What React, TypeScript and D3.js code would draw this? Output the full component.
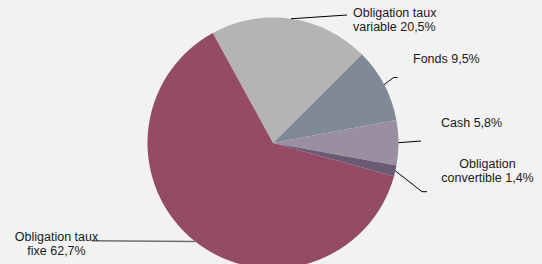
import React from "react";
import * as d3 from "d3";

const labels1 = ["Obligation taux", "Fonds 9,5%", "Cash 5,8%", "Obligation", "Obligation taux"];
const labels2 = ["variable 20,5%", "", "", "convertible 1,4%", "fixe 62,7%"];
const categories = ["Obligation taux variable", "Fonds", "Cash", "Obligation convertible", "Obligation taux fixe"];
const values = [20.5, 9.5, 5.8, 1.4, 62.7];
const colors = ["#b4b4b4", "#7f8a96", "#9a8fa0", "#6a5a74", "#944b66"];

const W = 542, H = 264;
const cx = 273, cy = 143, R = 125.5;
const startDeg = -28.7;

// label layout: text anchor position + leader path points after the start
const layout = [
  { x: 353, y: 16.5, anchor: "start", path: [[347, 15]] },
  { x: 413, y: 63, anchor: "start", path: [[393.5, 77.5], [397.5, 77.5]] },
  { x: 441, y: 126.5, anchor: "start", path: [[421, 141]] },
  { x: 487.5, y: 167.5, anchor: "middle", path: [[422, 191.7], [427, 191.7]] },
  { x: 56.5, y: 240.5, anchor: "middle", path: [[92, 240.7]] },
];
const lineColors = ["#000", "#000", "#000", "#000", "#6f6f6f"];

export default function App() {
  const start = (startDeg * Math.PI) / 180;
  const pie = d3.pie<number>().sort(null).value((d) => d).startAngle(start).endAngle(start + 2 * Math.PI);
  const arcs = pie(values);
  const arc = d3.arc<d3.PieArcDatum<number>>().innerRadius(0).outerRadius(R);
  return (
    <svg width={W} height={H} style={{ position: "absolute", left: 0, top: 0 }} fontFamily="'Liberation Sans', Arial, sans-serif">
      <rect width={W} height={H} fill="#f2f2f2" />
      <g transform={`translate(${cx},${cy})`}>
        {arcs.map((a, i) => (
          <path key={categories[i]} d={arc(a) || ""} fill={colors[i]} />
        ))}
      </g>
      {arcs.map((a, i) => {
        const mid = (a.startAngle + a.endAngle) / 2;
        const sx = cx + R * Math.sin(mid);
        const sy = cy - R * Math.cos(mid);
        const pts = [[sx, sy], ...layout[i].path];
        const line = d3.line()(pts as [number, number][]) || "";
        return <path key={"l" + i} d={line} fill="none" stroke={lineColors[i]} strokeWidth={i === 4 ? 1.5 : 1} />;
      })}
      {layout.map((l, i) => (
        <text key={"t" + i} x={l.x} y={l.y} fontSize={12.5} fill="#1a1a1a" textAnchor={l.anchor as any}>
          <tspan x={l.x}>{labels1[i]}</tspan>
          {labels2[i] && (
            <tspan x={l.x} dy={14.5}>
              {labels2[i]}
            </tspan>
          )}
        </text>
      ))}
    </svg>
  );
}
